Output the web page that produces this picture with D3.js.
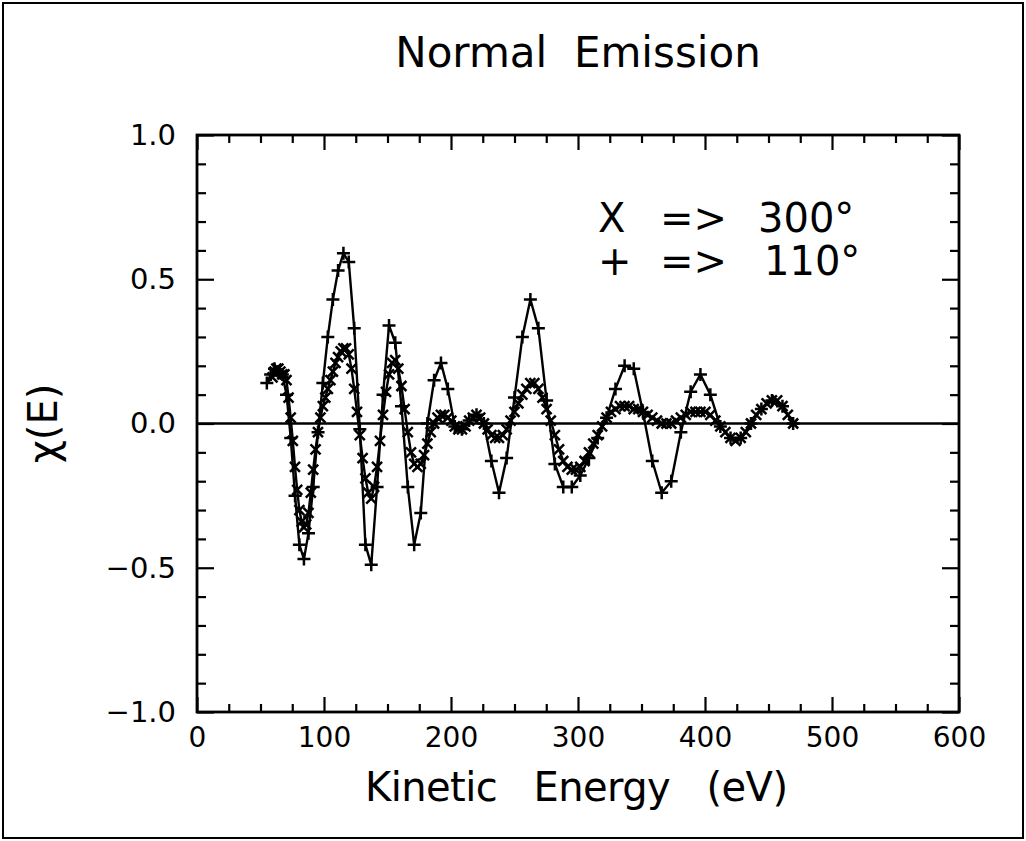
<!DOCTYPE html>
<html>
<head>
<meta charset="utf-8">
<script src="https://cdn.jsdelivr.net/npm/d3@7"></script>
<style>
  html, body { margin: 0; padding: 0; background: #fff; }
  svg { display: block; }
  text { font-family: "DejaVu Sans", sans-serif; fill: #000; white-space: pre; }
</style>
</head>
<body>
<svg id="chart"></svg>
<script>
const width = 1026;
const height = 841;

// 110 deg series ("+" markers)
const plusEnergy = [55.0, 58.0, 61.0, 64.1, 67.2, 70.5, 73.8, 77.2, 80.6, 84.2, 87.8, 91.5, 95.3, 99.1, 103.0, 107.0,
  111.1, 115.3, 119.5, 123.8, 128.2, 132.6, 137.2, 141.8, 146.5, 151.2, 156.1, 161.0, 166.0, 171.0, 176.2, 181.4,
  186.7, 192.1, 197.5, 203.0, 208.6, 214.3, 220.1, 225.9, 231.8, 237.8, 243.8, 250.0, 256.2, 262.5, 268.8, 275.3,
  281.8, 288.4, 295.1, 301.8, 308.6, 315.5, 322.5, 329.5, 336.7, 343.9, 351.1, 358.5, 365.9, 373.4, 381.0, 388.7,
  396.4, 404.2, 412.1, 420.1, 428.1, 436.2, 444.4, 452.7, 461.0, 469.4];
const plusChi = [0.14, 0.17, 0.19, 0.18, 0.17, 0.10, -0.05, -0.25, -0.42, -0.47, -0.38, -0.22, -0.03, 0.14, 0.30, 0.43,
  0.53, 0.59, 0.56, 0.33, -0.02, -0.42, -0.49, -0.22, 0.10, 0.34, 0.28, 0.06, -0.22, -0.42, -0.31, 0.00,
  0.15, 0.21, 0.12, -0.01, -0.02, 0.01, 0.03, 0.00, -0.13, -0.24, -0.12, 0.09, 0.30, 0.43, 0.33, 0.08,
  -0.14, -0.22, -0.22, -0.18, -0.12, -0.05, 0.02, 0.12, 0.20, 0.19, 0.04, -0.13, -0.24, -0.20, -0.03, 0.11,
  0.17, 0.10, -0.01, -0.05, -0.05, 0.00, 0.05, 0.08, 0.06, 0.00];

// 300 deg series ("X" markers)
const crossEnergy = [59.45, 60.96, 62.49, 64.05, 65.62, 67.21, 68.82, 70.45, 72.10, 73.76, 75.45, 77.15, 78.88, 80.62,
  82.38, 84.16, 85.96, 87.78, 89.62, 91.48, 93.35, 95.25, 97.17, 99.10, 101.05, 103.02, 105.02, 107.02, 109.05,
  111.10, 113.17, 115.25, 117.36, 119.48, 121.63, 123.79, 125.97, 128.17, 130.39, 132.63, 134.88, 137.16, 139.46,
  141.77, 144.10, 146.46, 148.83, 151.22, 153.63, 156.06, 158.51, 160.97, 163.46, 165.96, 168.49, 171.03, 173.59,
  176.17, 178.77, 181.39, 184.03, 186.69, 189.36, 192.06, 194.77, 197.51, 200.26, 203.03, 205.82, 208.64, 211.46,
  214.31, 217.18, 220.07, 222.97, 225.90, 228.84, 231.80, 234.78, 237.78, 240.80, 243.84, 246.90, 249.97, 253.07,
  256.18, 259.32, 262.47, 265.64, 268.83, 272.04, 275.27, 278.52, 281.79, 285.07, 288.38, 291.70, 295.05, 298.41,
  301.79, 305.19, 308.61, 312.05, 315.51, 318.98, 322.48, 325.99, 329.53, 333.08, 336.65, 340.24, 343.85, 347.48,
  351.13, 354.79, 358.48, 362.19, 365.91, 369.65, 373.42, 377.20, 381.00, 384.82, 388.66, 392.51, 396.39, 400.29,
  404.20, 408.13, 412.09, 416.06, 420.05, 424.06, 428.09, 432.14, 436.21, 440.29, 444.40, 448.52, 452.67, 456.83,
  461.01, 465.21, 469.43];
const crossChi = [0.16, 0.18, 0.19, 0.19, 0.18, 0.17, 0.17, 0.15, 0.09, 0.02, -0.06, -0.15, -0.23, -0.30,
  -0.34, -0.36, -0.35, -0.31, -0.24, -0.16, -0.09, -0.03, 0.02, 0.06, 0.09, 0.12, 0.15, 0.18, 0.21,
  0.23, 0.25, 0.26, 0.26, 0.24, 0.19, 0.12, 0.04, -0.04, -0.12, -0.19, -0.24, -0.26, -0.22,
  -0.15, -0.06, 0.03, 0.11, 0.17, 0.21, 0.22, 0.19, 0.13, 0.05, -0.03, -0.10, -0.14, -0.15,
  -0.14, -0.11, -0.07, -0.03, 0.00, 0.02, 0.03, 0.03, 0.02, 0.01, -0.01, -0.02, -0.02, -0.01,
  0.01, 0.02, 0.03, 0.02, 0.00, -0.02, -0.04, -0.05, -0.05, -0.04, -0.02, 0.01, 0.04, 0.07,
  0.10, 0.12, 0.14, 0.14, 0.12, 0.09, 0.05, 0.01, -0.04, -0.09, -0.13, -0.15, -0.16, -0.16,
  -0.15, -0.13, -0.10, -0.07, -0.04, -0.01, 0.02, 0.04, 0.05, 0.06, 0.06, 0.06, 0.05, 0.05,
  0.04, 0.03, 0.02, 0.01, 0.00, 0.00, 0.00, 0.01, 0.02, 0.03, 0.04, 0.04, 0.04, 0.04,
  0.03, 0.01, -0.01, -0.03, -0.05, -0.06, -0.05, -0.03, 0.00, 0.03, 0.05, 0.07, 0.08, 0.08,
  0.06, 0.03, 0.00];

const xMajorTicks = [0, 100, 200, 300, 400, 500, 600];
const xMinorTicks = [25, 50, 75, 125, 150, 175, 225, 250, 275, 325, 350, 375, 425, 450, 475, 525, 550, 575];
const yMajorTicks = [-1.0, -0.5, 0.0, 0.5, 1.0];
const yMinorTicks = [-0.9, -0.8, -0.7, -0.6, -0.4, -0.3, -0.2, -0.1, 0.1, 0.2, 0.3, 0.4, 0.6, 0.7, 0.8, 0.9];

const legendSymbols = ["X", "+"];
const legendAngles = ["300°", "110°"];

// plot box in page pixels
const plotLeft = 197, plotRight = 959, plotTop = 135, plotBottom = 712;

const svg = d3.select("#chart")
  .attr("width", width)
  .attr("height", height);

// outer frame
svg.append("rect")
  .attr("x", 3).attr("y", 3)
  .attr("width", 1020).attr("height", 835)
  .attr("fill", "none").attr("stroke", "#000").attr("stroke-width", 2);

const x = d3.scaleLinear().domain([0, 600]).range([plotLeft, plotRight]);
const y = d3.scaleLinear().domain([-1, 1]).range([plotBottom, plotTop]);

const g = svg.append("g");

// ticks, all pointing inward
function tickAxis(axis, tr, vals, size, fmt, pad) {
  const a = g.append("g")
    .attr("transform", tr)
    .call(axis.tickValues(vals).tickSize(size).tickPadding(pad || 3).tickFormat(fmt || (() => "")));
  a.select(".domain").remove();
  a.selectAll("line").attr("stroke", "#000").attr("stroke-width", 2.2);
  return a;
}
const fmtY = d3.format(".1f");

const xb = tickAxis(d3.axisBottom(x), `translate(0,${plotBottom})`, xMajorTicks, -15, d3.format("d"), 15);
tickAxis(d3.axisBottom(x), `translate(0,${plotBottom})`, xMinorTicks, -8);
tickAxis(d3.axisTop(x), `translate(0,${plotTop})`, xMajorTicks, -15);
tickAxis(d3.axisTop(x), `translate(0,${plotTop})`, xMinorTicks, -8);
const yl = tickAxis(d3.axisLeft(y), `translate(${plotLeft},0)`, yMajorTicks, -17, fmtY, 21);
tickAxis(d3.axisLeft(y), `translate(${plotLeft},0)`, yMinorTicks, -9);
tickAxis(d3.axisRight(y), `translate(${plotRight},0)`, yMajorTicks, -17);
tickAxis(d3.axisRight(y), `translate(${plotRight},0)`, yMinorTicks, -9);

xb.selectAll("text").attr("font-size", 28).attr("font-family", "DejaVu Sans").attr("fill", "#000");
yl.selectAll("text").attr("font-size", 29).attr("font-family", "DejaVu Sans").attr("fill", "#000");

// plot box
g.append("rect")
  .attr("x", plotLeft).attr("y", plotTop)
  .attr("width", plotRight - plotLeft).attr("height", plotBottom - plotTop)
  .attr("fill", "none").attr("stroke", "#000").attr("stroke-width", 2.8);

// zero line
g.append("line")
  .attr("x1", x(0)).attr("x2", x(600))
  .attr("y1", y(0)).attr("y2", y(0))
  .attr("stroke", "#000").attr("stroke-width", 2.5);

const line = d3.line().x(d => x(d[0])).y(d => y(d[1]));
const plusData = plusEnergy.map((e, i) => [e, plusChi[i]]);
const crossData = crossEnergy.map((e, i) => [e, crossChi[i]]);

[plusData, crossData].forEach(data => {
  g.append("path")
    .datum(data)
    .attr("d", line)
    .attr("fill", "none")
    .attr("stroke", "#000")
    .attr("stroke-width", 2.4)
    .attr("stroke-linejoin", "round");
});

const plusPath = "M-6.5,0H6.5M0,-6.5V6.5";
const crossPath = "M-5,-5L5,5M-5,5L5,-5";

g.selectAll(".m-cross")
  .data(crossData)
  .enter().append("path")
  .attr("class", "m-cross")
  .attr("transform", d => `translate(${x(d[0])},${y(d[1])})`)
  .attr("d", crossPath)
  .attr("stroke", "#000").attr("stroke-width", 2.5).attr("fill", "none");

g.selectAll(".m-plus")
  .data(plusData)
  .enter().append("path")
  .attr("class", "m-plus")
  .attr("transform", d => `translate(${x(d[0])},${y(d[1])})`)
  .attr("d", plusPath)
  .attr("stroke", "#000").attr("stroke-width", 2.5).attr("fill", "none");

// titles
svg.append("text")
  .attr("x", (plotLeft + plotRight) / 2).attr("y", 67)
  .attr("text-anchor", "middle")
  .attr("font-size", 42)
  .text("Normal  Emission");

svg.append("text")
  .attr("x", 365).attr("y", 801)
  .attr("textLength", 423).attr("lengthAdjust", "spacing")
  .attr("font-size", 40)
  .text("Kinetic   Energy   (eV)");

svg.append("text")
  .attr("transform", `translate(57,${y(0)}) rotate(-90)`)
  .attr("text-anchor", "middle")
  .attr("font-size", 40)
  .text("χ(E)");

// legend
const legend = svg.append("g");
legendSymbols.forEach((s, i) => {
  const base = 232 + i * 43;
  legend.append("text").attr("x", 598).attr("y", base).attr("font-size", 40).text(s);
  legend.append("text").attr("x", 660).attr("y", base).attr("font-size", 40).text("=>");
  legend.append("text").attr("x", i === 0 ? 758 : 764).attr("y", base).attr("font-size", 40).text(legendAngles[i]);
});
</script>
</body>
</html>
